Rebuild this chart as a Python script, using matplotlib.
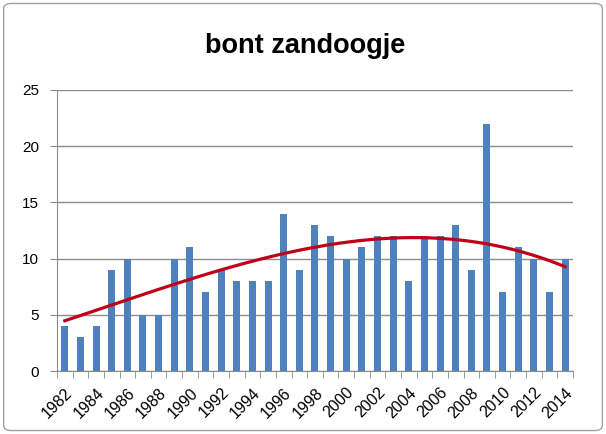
import matplotlib.pyplot as plt
import numpy as np
from matplotlib.patches import FancyBboxPatch

years = list(range(1982, 2015))
counts = [4, 3, 4, 9, 10, 5, 5, 10, 11, 7, 9, 8, 8, 8, 14, 9, 13, 12, 10, 11,
          12, 12, 8, 12, 12, 13, 9, 22, 7, 11, 10, 7, 10]
title = 'bont zandoogje'

plt.rcParams['font.family'] = ['Liberation Sans', 'DejaVu Sans']

fig = plt.figure(figsize=(6.06, 4.34), dpi=100)
ax = fig.add_axes([0.094, 0.145, 0.8515, 0.648])

x = np.arange(len(years))
ax.bar(x, counts, width=0.45, color='#4F81BD', zorder=3)

# polynomial trendline, like the spreadsheet one
coef = np.polyfit(x, counts, 3)
xs = np.linspace(0, len(years) - 1, 200)
ax.plot(xs, np.polyval(coef, xs), color='#C0001A', lw=2.3, zorder=4)

ax.set_xlim(-0.5, len(years) - 0.5)
ax.set_ylim(0, 25)
ax.set_yticks(range(0, 26, 5))
ax.yaxis.grid(True, color='#8C8C8C', lw=1, zorder=0)
ax.tick_params(axis='y', length=5, color='#8C8C8C', labelsize=11, pad=8)

ax.set_xticks(x[::2])
ax.set_xticklabels([str(y) for y in years[::2]], rotation=45, ha='right',
                   rotation_mode='anchor', fontsize=11.5)
ax.set_xticks(np.arange(-0.5, len(years), 1), minor=True)
ax.tick_params(axis='x', which='major', length=0, pad=10)
ax.tick_params(axis='x', which='minor', length=5, color='#8C8C8C')

for s in ['top', 'right']:
    ax.spines[s].set_visible(False)
for s in ['left', 'bottom']:
    ax.spines[s].set_color('#8C8C8C')

fig.text(0.503, 0.895, title, ha='center', va='center', fontsize=19.5,
         fontweight='bold')

border = FancyBboxPatch((0.006, 0.008), 0.988, 0.984,
                        boxstyle='round,pad=0,rounding_size=0.012',
                        transform=fig.transFigure, fill=False,
                        edgecolor='#A0A0A0', lw=1)
fig.patches.append(border)

fig.savefig('out.png', dpi=100)
